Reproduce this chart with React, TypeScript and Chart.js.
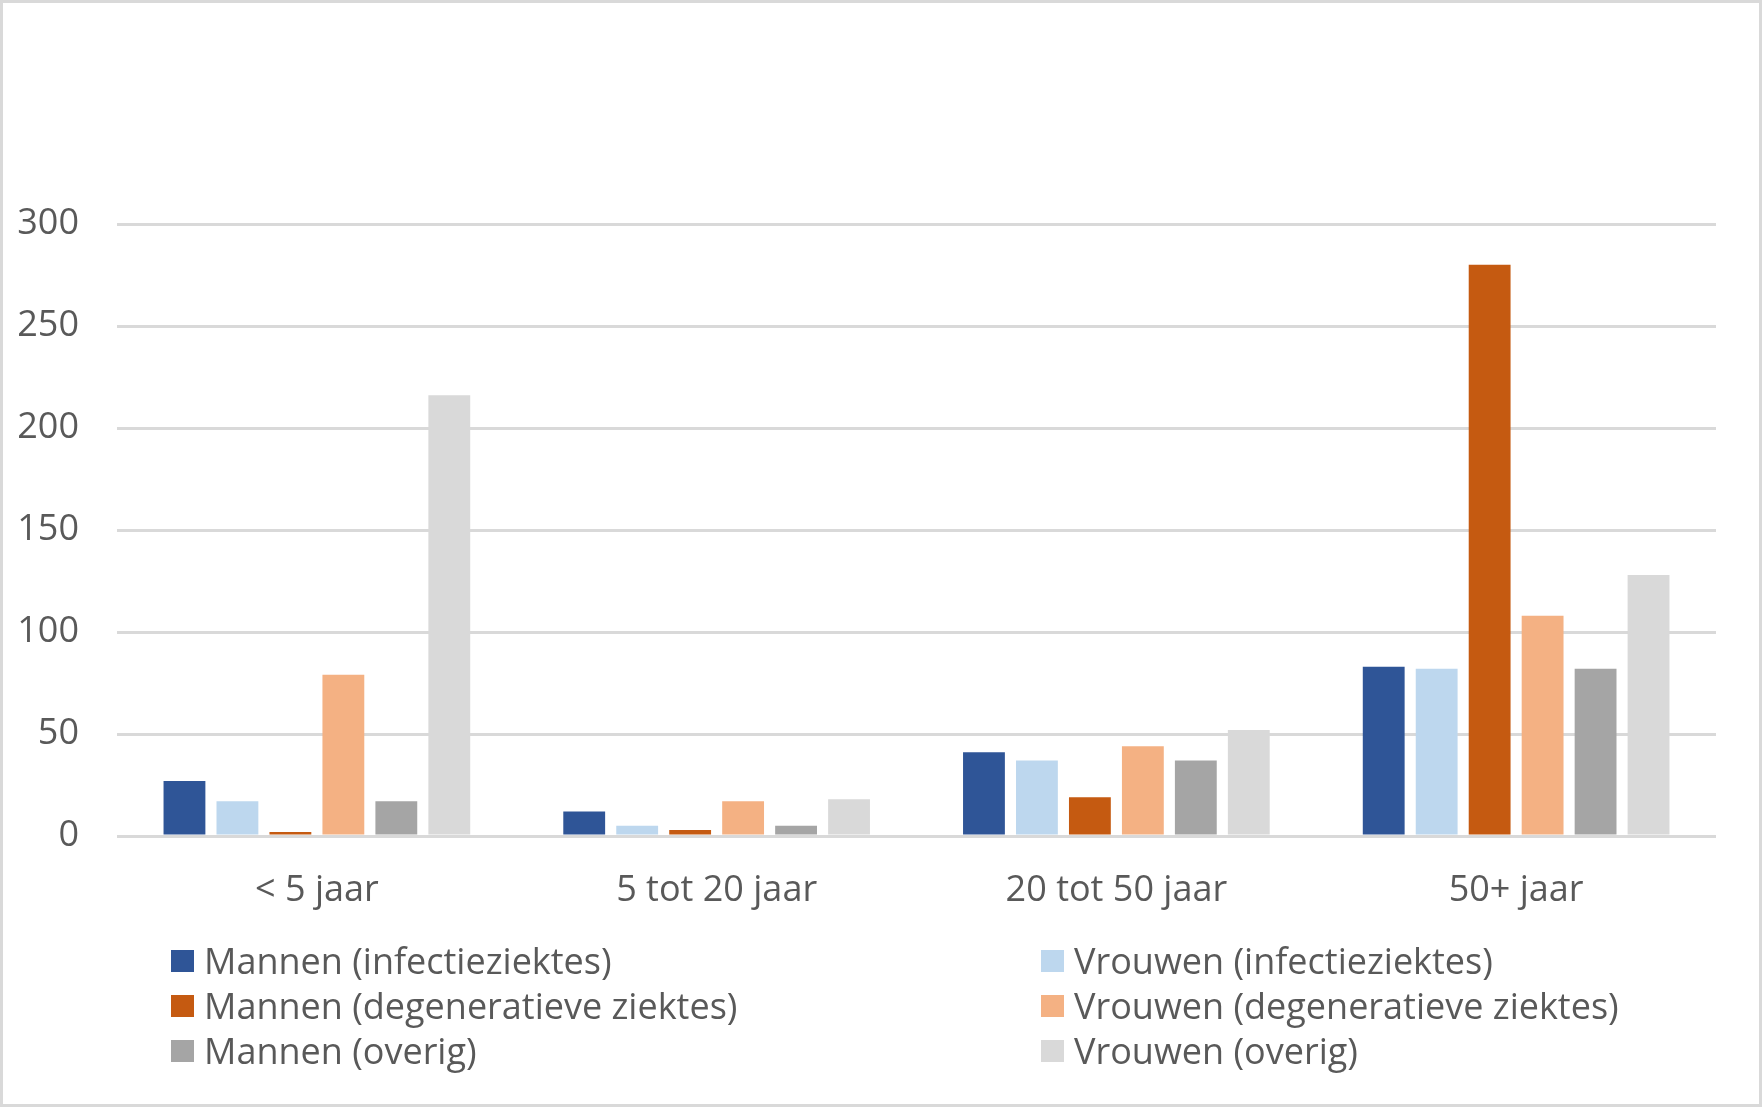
import React, { useEffect, useRef } from "react";
import { Chart, registerables } from "chart.js";

Chart.register(...registerables);

const categories = ["< 5 jaar", "5 tot 20 jaar", "20 tot 50 jaar", "50+ jaar"];
const seriesNames = [
  "Mannen (infectieziektes)",
  "Vrouwen (infectieziektes)",
  "Mannen (degeneratieve ziektes)",
  "Vrouwen (degeneratieve ziektes)",
  "Mannen (overig)",
  "Vrouwen (overig)",
];
const mannenInfectie = [27, 12, 41, 83];
const vrouwenInfectie = [17, 5, 37, 82];
const mannenDegeneratief = [2, 3, 19, 280];
const vrouwenDegeneratief = [79, 17, 44, 108];
const mannenOverig = [17, 5, 37, 82];
const vrouwenOverig = [216, 18, 52, 128];
const yMin = 0;
const yMax = 300;
const yStep = 50;

const seriesValues = [
  mannenInfectie,
  vrouwenInfectie,
  mannenDegeneratief,
  vrouwenDegeneratief,
  mannenOverig,
  vrouwenOverig,
];
const colors = ["#2F5597", "#BDD7EE", "#C55A11", "#F4B183", "#A5A5A5", "#D9D9D9"];

const FONT = '"Open Sans", "DejaVu Sans", sans-serif';
const TEXT = "#595959";
const GRID = "#D9D9D9";
const FONT_SIZE = 36;

export default function App() {
  const canvasRef = useRef<HTMLCanvasElement | null>(null);

  useEffect(() => {
    let chart: Chart | null = null;
    let cancelled = false;
    const build = () => {
      if (cancelled || !canvasRef.current) return;
      chart = new Chart(canvasRef.current, {
        type: "bar",
        data: {
          labels: categories,
          datasets: seriesNames.map((name, i) => ({
            label: name,
            data: seriesValues[i],
            backgroundColor: colors[i],
            borderWidth: 0,
            categoryPercentage: 0.795,
            barPercentage: 0.79,
          })),
        },
        options: {
          animation: false,
          responsive: false,
          maintainAspectRatio: false,
          devicePixelRatio: 1,
          layout: { padding: { left: 0, right: 46, top: 224, bottom: 24 } },
          plugins: {
            legend: { display: false },
            title: { display: false },
            tooltip: { enabled: false },
          },
          scales: {
            x: {
              grid: { display: false, drawTicks: false },
              border: { display: false },
              ticks: {
                color: TEXT,
                font: { family: FONT, size: FONT_SIZE },
                padding: 33,
              },
              afterFit: (s: any) => {
                s.height = 80;
                s.paddingLeft = 0;
                s.paddingRight = 0;
              },
            },
            y: {
              min: yMin,
              max: yMax,
              ticks: {
                stepSize: yStep,
                color: TEXT,
                font: { family: FONT, size: FONT_SIZE },
                padding: 38,
              },
              grid: { color: GRID, lineWidth: 3, drawTicks: false },
              border: { display: false },
              afterFit: (s: any) => {
                s.width = 117;
                s.paddingTop = 0;
                s.paddingBottom = 0;
              },
            },
          },
        },
      });
    };
    const fonts: any = (document as any).fonts;
    if (fonts && fonts.load) {
      fonts.load(FONT_SIZE + 'px "Open Sans"').then(build, build);
    } else {
      build();
    }
    return () => {
      cancelled = true;
      if (chart) chart.destroy();
    };
  }, []);

  const legendCols = [171, 1041];
  const legendRows = [943, 988, 1033];

  return (
    <div
      style={{
        position: "absolute",
        left: 0,
        top: 0,
        width: 1762,
        height: 1107,
        background: "#ffffff",
        overflow: "hidden",
      }}
    >
      <canvas
        ref={canvasRef}
        width={1762}
        height={940}
        style={{ position: "absolute", left: 0, top: 0, width: 1762, height: 940 }}
      />
      {seriesNames.map((name, i) => (
        <div
          key={name}
          style={{
            position: "absolute",
            left: legendCols[i % 2],
            top: legendRows[Math.floor(i / 2)],
            height: 35,
            display: "flex",
            alignItems: "center",
            fontFamily: FONT,
            fontSize: FONT_SIZE,
            lineHeight: "35px",
            color: TEXT,
            whiteSpace: "nowrap",
          }}
        >
          <span
            style={{
              display: "inline-block",
              width: 23,
              height: 22,
              background: colors[i],
              marginRight: 10,
              flex: "0 0 auto",
            }}
          />
          <span>{name}</span>
        </div>
      ))}
      <div
        style={{
          position: "absolute",
          left: 0,
          top: 0,
          width: 1762,
          height: 1107,
          boxSizing: "border-box",
          border: "3px solid #D9D9D9",
          pointerEvents: "none",
        }}
      />
    </div>
  );
}
